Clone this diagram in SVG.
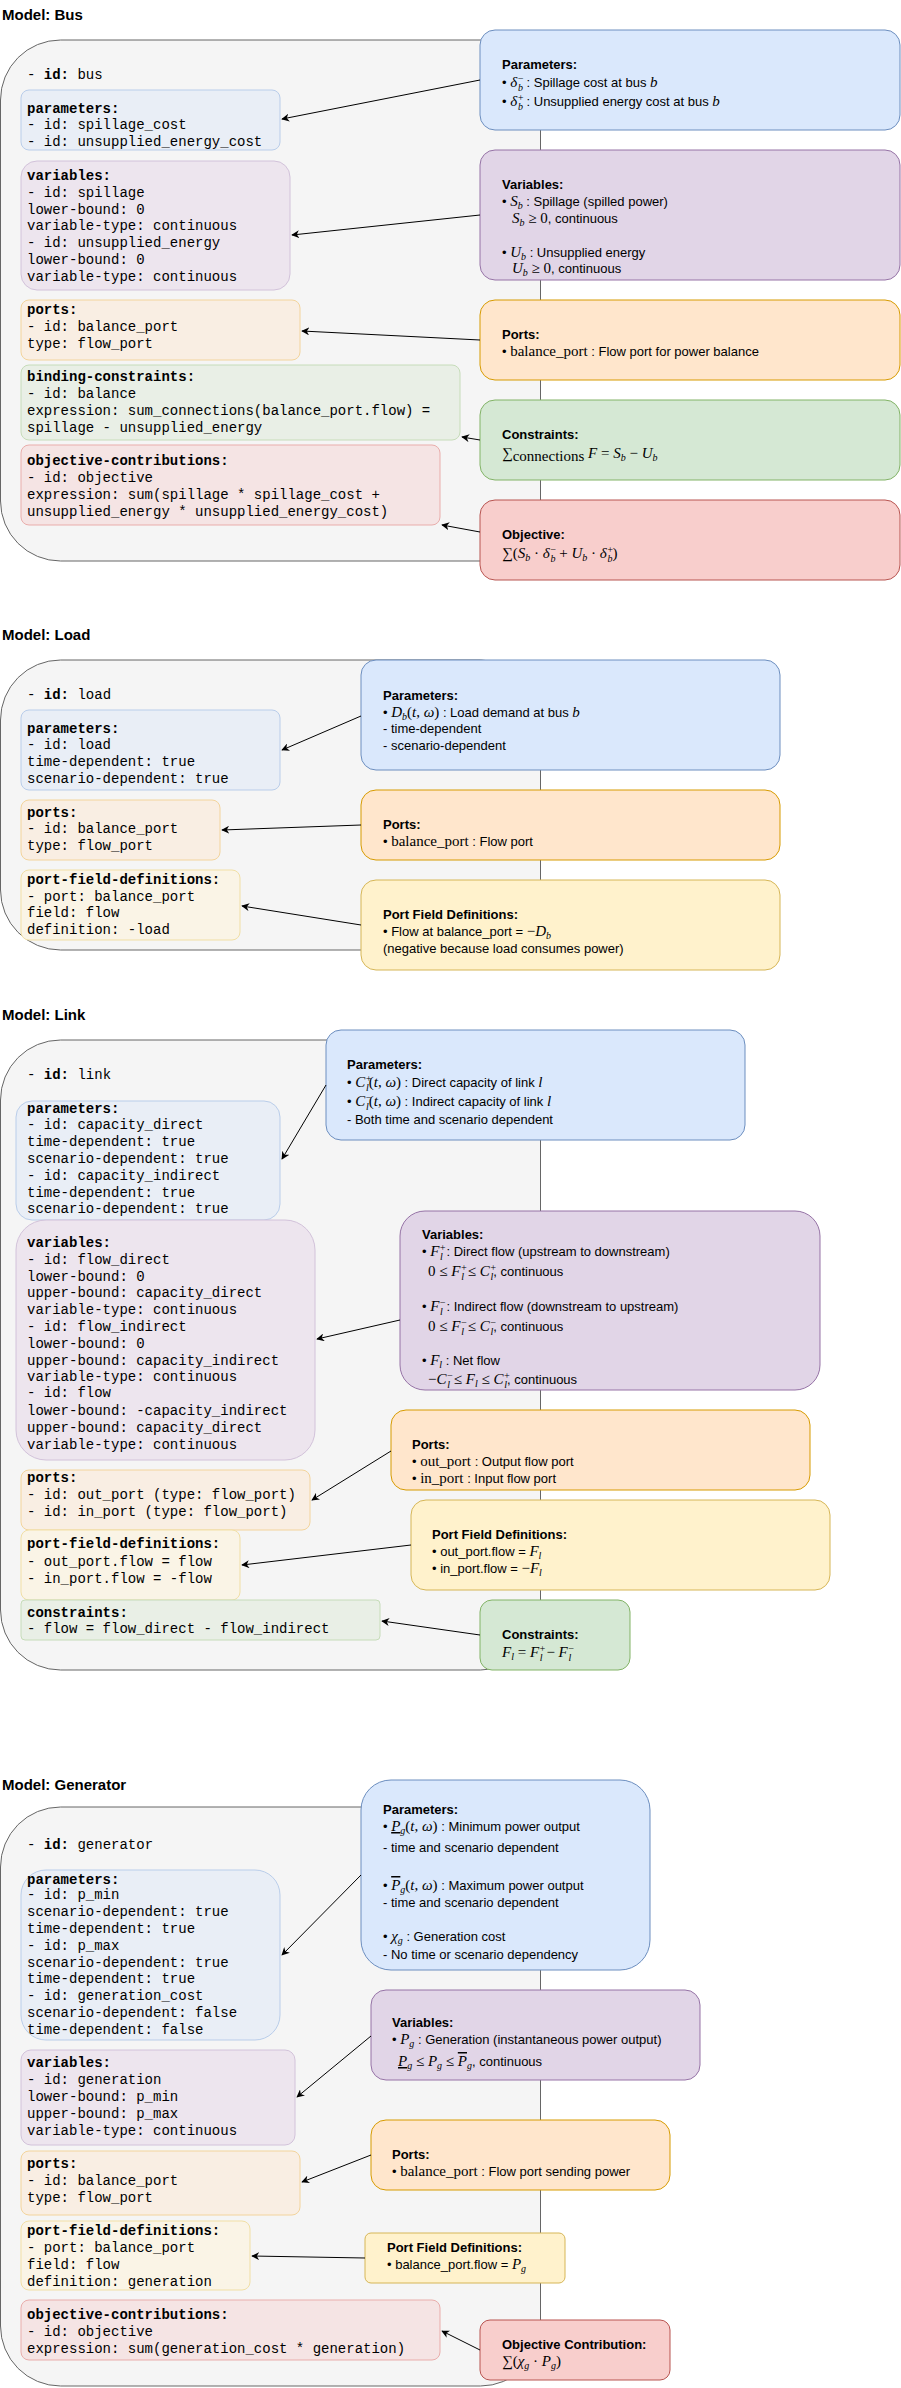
<svg xmlns="http://www.w3.org/2000/svg" width="901" height="2388" viewBox="0 0 901 2388" xml:space="preserve">
<style>
.t{font-family:"Liberation Sans",Arial,sans-serif;font-size:15px;font-weight:bold;fill:#000}
.c{font-family:"Liberation Mono","DejaVu Sans Mono",monospace;font-size:14px;fill:#000}
.b{font-weight:bold}
.r{font-family:"Liberation Sans",Arial,sans-serif;font-size:13px;fill:#000}
.m{font-family:"Liberation Serif",serif;font-style:italic;font-size:15px}
.u{font-family:"Liberation Serif",serif;font-size:15px}
.s{font-family:"Liberation Serif",serif;font-style:italic;font-size:10px}
.cont{fill:#f5f5f5;stroke:#666;stroke-width:1}
.lp{fill:#e9eef6;stroke:#b9cdea}
.lv{fill:#ede5ee;stroke:#d2c2da}
.lo{fill:#f9eee3;stroke:#f3d49c}
.lg{fill:#e9efe6;stroke:#c6dcb9}
.lr{fill:#f5e4e4;stroke:#e9adab}
.ly{fill:#faf4e6;stroke:#f1dfa5}
.rp{fill:#dae8fc;stroke:#6c8ebf}
.rv{fill:#e1d5e7;stroke:#9673a6}
.ro{fill:#ffe6cc;stroke:#d79b00}
.rg{fill:#d5e8d4;stroke:#82b366}
.rr{fill:#f8cecc;stroke:#b85450}
.ry{fill:#fff2cc;stroke:#d6b656}
.a{stroke:#000;stroke-width:1;fill:none;marker-end:url(#ah)}
</style>
<defs><marker id="ah" viewBox="0 0 10 10" refX="9" refY="5" markerWidth="8" markerHeight="8" orient="auto" markerUnits="userSpaceOnUse"><path d="M0,0 L10,5 L0,10 L3,5 z" fill="#000"/></marker></defs>
<rect width="901" height="2388" fill="#fff"/>

<!-- ===== BUS ===== -->
<g id="bus">
<text class="t" x="2" y="20">Model: Bus</text>
<rect class="cont" x="0.5" y="40" width="540" height="521" rx="60"/>
<text class="c" x="27" y="79">- <tspan class="b">id:</tspan> bus</text>
</g>
<g id="bus-params"><rect class="lp" x="21" y="90" width="259" height="60" rx="8"/>
<text class="c" x="27" y="113"><tspan class="b">parameters:</tspan></text>
<text class="c" x="27" y="129"> - id: spillage_cost</text>
<text class="c" x="27" y="146"> - id: unsupplied_energy_cost</text></g>
<g id="bus-vars"><rect class="lv" x="21" y="161" width="269" height="129" rx="16"/>
<text class="c" x="27" y="180"><tspan class="b">variables:</tspan></text>
<text class="c" x="27" y="197"> - id: spillage</text>
<text class="c" x="27" y="214">   lower-bound: 0</text>
<text class="c" x="27" y="230">   variable-type: continuous</text>
<text class="c" x="27" y="247"> - id: unsupplied_energy</text>
<text class="c" x="27" y="264">   lower-bound: 0</text>
<text class="c" x="27" y="281">   variable-type: continuous</text></g>
<g id="bus-ports"><rect class="lo" x="21" y="300" width="279" height="60" rx="8"/>
<text class="c" x="27" y="314"><tspan class="b">ports:</tspan></text>
<text class="c" x="27" y="331"> - id: balance_port</text>
<text class="c" x="27" y="348">   type: flow_port</text></g>
<g id="bus-binding"><rect class="lg" x="21" y="365" width="439" height="75" rx="8"/>
<text class="c" x="27" y="381"><tspan class="b">binding-constraints:</tspan></text>
<text class="c" x="27" y="398"> - id: balance</text>
<text class="c" x="27" y="415">   expression: sum_connections(balance_port.flow) =</text>
<text class="c" x="27" y="432">spillage - unsupplied_energy</text></g>
<g id="bus-obj"><rect class="lr" x="21" y="445" width="419" height="80" rx="8"/>
<text class="c" x="27" y="465"><tspan class="b">objective-contributions:</tspan></text>
<text class="c" x="27" y="482"> - id: objective</text>
<text class="c" x="27" y="499">   expression: sum(spillage * spillage_cost +</text>
<text class="c" x="27" y="516">unsupplied_energy * unsupplied_energy_cost)</text></g>

<g id="bus-r-params"><rect class="rp" x="480" y="30" width="420" height="100" rx="15"/>
<text class="r b" x="502" y="69">Parameters:</text>
<text class="r" x="502" y="87">• <tspan class="m">δ</tspan><tspan class="s" dy="-5">−</tspan><tspan class="s" dx="-6" dy="9">b</tspan><tspan dy="-4"> : Spillage cost at bus </tspan><tspan class="m">b</tspan></text>
<text class="r" x="502" y="106">• <tspan class="m">δ</tspan><tspan class="s" dy="-5">+</tspan><tspan class="s" dx="-6" dy="9">b</tspan><tspan dy="-4"> : Unsupplied energy cost at bus </tspan><tspan class="m">b</tspan></text></g>
<g id="bus-r-vars"><rect class="rv" x="480" y="150" width="420" height="130" rx="15"/>
<text class="r b" x="502" y="189">Variables:</text>
<text class="r" x="502" y="206">• <tspan class="m">S</tspan><tspan class="s" dy="3">b</tspan><tspan dy="-3"> : Spillage (spilled power)</tspan></text>
<text class="r" x="512" y="223"><tspan class="m">S</tspan><tspan class="s" dy="3">b</tspan><tspan class="u" dy="-3"> ≥ 0</tspan>, continuous</text>
<text class="r" x="502" y="257">• <tspan class="m">U</tspan><tspan class="s" dy="3">b</tspan><tspan dy="-3"> : Unsupplied energy</tspan></text>
<text class="r" x="512" y="273"><tspan class="m">U</tspan><tspan class="s" dy="3">b</tspan><tspan class="u" dy="-3"> ≥ 0</tspan>, continuous</text></g>
<g id="bus-r-ports"><rect class="ro" x="480" y="300" width="420" height="80" rx="15"/>
<text class="r b" x="502" y="339">Ports:</text>
<text class="r" x="502" y="356">• <tspan class="u">balance_port</tspan> : Flow port for power balance</text></g>
<g id="bus-r-cons"><rect class="rg" x="480" y="400" width="420" height="80" rx="15"/>
<text class="r b" x="502" y="439">Constraints:</text>
<text class="r" x="502" y="458"><tspan class="u" font-size="18">∑</tspan><tspan class="u" font-size="10" dy="3">connections</tspan><tspan class="m" dy="-3"> F</tspan><tspan class="u"> = </tspan><tspan class="m">S</tspan><tspan class="s" dy="3">b</tspan><tspan class="u" dy="-3"> − </tspan><tspan class="m">U</tspan><tspan class="s" dy="3">b</tspan></text></g>
<g id="bus-r-obj"><rect class="rr" x="480" y="500" width="420" height="80" rx="15"/>
<text class="r b" x="502" y="539">Objective:</text>
<text class="r" x="502" y="558"><tspan class="u" font-size="18">∑(</tspan><tspan class="m">S</tspan><tspan class="s" dy="3">b</tspan><tspan class="u" dy="-3"> · </tspan><tspan class="m">δ</tspan><tspan class="s" dy="-5">−</tspan><tspan class="s" dx="-6" dy="9">b</tspan><tspan class="u" dy="-4"> + </tspan><tspan class="m">U</tspan><tspan class="s" dy="3">b</tspan><tspan class="u" dy="-3"> · </tspan><tspan class="m">δ</tspan><tspan class="s" dy="-5">+</tspan><tspan class="s" dx="-6" dy="9">b</tspan><tspan class="u" font-size="18" dy="-4">)</tspan></text></g>

<!-- ===== LOAD ===== -->
<g id="load">
<text class="t" x="2" y="640">Model: Load</text>
<rect class="cont" x="0.5" y="660" width="540" height="290" rx="60"/>
<text class="c" x="27" y="699">- <tspan class="b">id:</tspan> load</text>
</g>
<g id="load-params"><rect class="lp" x="21" y="710" width="259" height="80" rx="8"/>
<text class="c" x="27" y="733"><tspan class="b">parameters:</tspan></text>
<text class="c" x="27" y="749"> - id: load</text>
<text class="c" x="27" y="766">   time-dependent: true</text>
<text class="c" x="27" y="783">   scenario-dependent: true</text></g>
<g id="load-ports"><rect class="lo" x="21" y="800" width="199" height="60" rx="8"/>
<text class="c" x="27" y="817"><tspan class="b">ports:</tspan></text>
<text class="c" x="27" y="833"> - id: balance_port</text>
<text class="c" x="27" y="850">   type: flow_port</text></g>
<g id="load-pfd"><rect class="ly" x="21" y="870" width="219" height="70" rx="8"/>
<text class="c" x="27" y="884"><tspan class="b">port-field-definitions:</tspan></text>
<text class="c" x="27" y="901"> - port: balance_port</text>
<text class="c" x="27" y="917">   field: flow</text>
<text class="c" x="27" y="934">   definition: -load</text></g>
<g id="load-r-params"><rect class="rp" x="361" y="660" width="419" height="110" rx="15"/>
<text class="r b" x="383" y="700">Parameters:</text>
<text class="r" x="383" y="717">• <tspan class="m">D</tspan><tspan class="s" dy="3">b</tspan><tspan class="u" dy="-3">(</tspan><tspan class="m">t</tspan><tspan class="u">, </tspan><tspan class="m">ω</tspan><tspan class="u">)</tspan> : Load demand at bus <tspan class="m">b</tspan></text>
<text class="r" x="383" y="733">  - time-dependent</text>
<text class="r" x="383" y="750">  - scenario-dependent</text></g>
<g id="load-r-ports"><rect class="ro" x="361" y="790" width="419" height="70" rx="15"/>
<text class="r b" x="383" y="829">Ports:</text>
<text class="r" x="383" y="846">• <tspan class="u">balance_port</tspan> : Flow port</text></g>
<g id="load-r-pfd"><rect class="ry" x="361" y="880" width="419" height="90" rx="15"/>
<text class="r b" x="383" y="919">Port Field Definitions:</text>
<text class="r" x="383" y="936">• Flow at balance_port = <tspan class="u">−</tspan><tspan class="m">D</tspan><tspan class="s" dy="3">b</tspan></text>
<text class="r" x="383" y="953">   (negative because load consumes power)</text></g>

<!-- ===== LINK ===== -->
<g id="link">
<text class="t" x="2" y="1020">Model: Link</text>
<rect class="cont" x="0.5" y="1040" width="540" height="630" rx="60"/>
<text class="c" x="27" y="1079">- <tspan class="b">id:</tspan> link</text>
</g>
<g id="link-params"><rect class="lp" x="16" y="1101" width="264" height="119" rx="16"/>
<text class="c" x="27" y="1113"><tspan class="b">parameters:</tspan></text>
<text class="c" x="27" y="1129"> - id: capacity_direct</text>
<text class="c" x="27" y="1146">   time-dependent: true</text>
<text class="c" x="27" y="1163">   scenario-dependent: true</text>
<text class="c" x="27" y="1180"> - id: capacity_indirect</text>
<text class="c" x="27" y="1197">   time-dependent: true</text>
<text class="c" x="27" y="1213">   scenario-dependent: true</text></g>
<g id="link-vars"><rect class="lv" x="16" y="1220" width="299" height="240" rx="30"/>
<text class="c" x="27" y="1247"><tspan class="b">variables:</tspan></text>
<text class="c" x="27" y="1264"> - id: flow_direct</text>
<text class="c" x="27" y="1281">   lower-bound: 0</text>
<text class="c" x="27" y="1297">   upper-bound: capacity_direct</text>
<text class="c" x="27" y="1314">   variable-type: continuous</text>
<text class="c" x="27" y="1331"> - id: flow_indirect</text>
<text class="c" x="27" y="1348">   lower-bound: 0</text>
<text class="c" x="27" y="1365">   upper-bound: capacity_indirect</text>
<text class="c" x="27" y="1381">   variable-type: continuous</text>
<text class="c" x="27" y="1397"> - id: flow</text>
<text class="c" x="27" y="1415">   lower-bound: -capacity_indirect</text>
<text class="c" x="27" y="1432">   upper-bound: capacity_direct</text>
<text class="c" x="27" y="1449">   variable-type: continuous</text></g>
<g id="link-ports"><rect class="lo" x="21" y="1470" width="289" height="60" rx="8"/>
<text class="c" x="27" y="1482"><tspan class="b">ports:</tspan></text>
<text class="c" x="27" y="1499"> - id: out_port (type: flow_port)</text>
<text class="c" x="27" y="1516"> - id: in_port (type: flow_port)</text></g>
<g id="link-pfd"><rect class="ly" x="21" y="1530" width="219" height="70" rx="8"/>
<text class="c" x="27" y="1548"><tspan class="b">port-field-definitions:</tspan></text>
<text class="c" x="27" y="1566"> - out_port.flow = flow</text>
<text class="c" x="27" y="1583"> - in_port.flow = -flow</text></g>
<g id="link-cons"><rect class="lg" x="21" y="1600" width="359" height="40" rx="4"/>
<text class="c" x="27" y="1617"><tspan class="b">constraints:</tspan></text>
<text class="c" x="27" y="1633"> - flow = flow_direct - flow_indirect</text></g>
<g id="link-r-params"><rect class="rp" x="326" y="1030" width="419" height="110" rx="15"/>
<text class="r b" x="347" y="1069">Parameters:</text>
<text class="r" x="347" y="1087">• <tspan class="m">C</tspan><tspan class="s" dy="-5">+</tspan><tspan class="s" dx="-6" dy="9">l</tspan><tspan class="u" dy="-4">(</tspan><tspan class="m">t</tspan><tspan class="u">, </tspan><tspan class="m">ω</tspan><tspan class="u">)</tspan> : Direct capacity of link <tspan class="m">l</tspan></text>
<text class="r" x="347" y="1106">• <tspan class="m">C</tspan><tspan class="s" dy="-5">−</tspan><tspan class="s" dx="-6" dy="9">l</tspan><tspan class="u" dy="-4">(</tspan><tspan class="m">t</tspan><tspan class="u">, </tspan><tspan class="m">ω</tspan><tspan class="u">)</tspan> : Indirect capacity of link <tspan class="m">l</tspan></text>
<text class="r" x="347" y="1124">  - Both time and scenario dependent</text></g>
<g id="link-r-vars"><rect class="rv" x="400" y="1211" width="420" height="179" rx="25"/>
<text class="r b" x="422" y="1239">Variables:</text>
<text class="r" x="422" y="1256">• <tspan class="m">F</tspan><tspan class="s" dy="-5">+</tspan><tspan class="s" dx="-6" dy="9">l</tspan><tspan dy="-4">  : Direct flow (upstream to downstream)</tspan></text>
<text class="r" x="428" y="1276"><tspan class="u">0 ≤ </tspan><tspan class="m">F</tspan><tspan class="s" dy="-5">+</tspan><tspan class="s" dx="-6" dy="9">l</tspan><tspan class="u" dy="-4">  ≤ </tspan><tspan class="m">C</tspan><tspan class="s" dy="-5">+</tspan><tspan class="s" dx="-6" dy="9">l</tspan><tspan dy="-4">, continuous</tspan></text>
<text class="r" x="422" y="1311">• <tspan class="m">F</tspan><tspan class="s" dy="-5">−</tspan><tspan class="s" dx="-6" dy="9">l</tspan><tspan dy="-4">  : Indirect flow (downstream to upstream)</tspan></text>
<text class="r" x="428" y="1331"><tspan class="u">0 ≤ </tspan><tspan class="m">F</tspan><tspan class="s" dy="-5">−</tspan><tspan class="s" dx="-6" dy="9">l</tspan><tspan class="u" dy="-4">  ≤ </tspan><tspan class="m">C</tspan><tspan class="s" dy="-5">−</tspan><tspan class="s" dx="-6" dy="9">l</tspan><tspan dy="-4">, continuous</tspan></text>
<text class="r" x="422" y="1365">• <tspan class="m">F</tspan><tspan class="s" dy="3">l</tspan><tspan dy="-3"> : Net flow</tspan></text>
<text class="r" x="428" y="1384"><tspan class="u">−</tspan><tspan class="m">C</tspan><tspan class="s" dy="-5">−</tspan><tspan class="s" dx="-6" dy="9">l</tspan><tspan class="u" dy="-4">  ≤ </tspan><tspan class="m">F</tspan><tspan class="s" dy="3">l</tspan><tspan class="u" dy="-3"> ≤ </tspan><tspan class="m">C</tspan><tspan class="s" dy="-5">+</tspan><tspan class="s" dx="-6" dy="9">l</tspan><tspan dy="-4">, continuous</tspan></text></g>
<g id="link-r-ports"><rect class="ro" x="391" y="1410" width="419" height="80" rx="15"/>
<text class="r b" x="412" y="1449">Ports:</text>
<text class="r" x="412" y="1466">• <tspan class="u">out_port</tspan> : Output flow port</text>
<text class="r" x="412" y="1483">• <tspan class="u">in_port</tspan> : Input flow port</text></g>
<g id="link-r-pfd"><rect class="ry" x="411" y="1500" width="419" height="90" rx="15"/>
<text class="r b" x="432" y="1539">Port Field Definitions:</text>
<text class="r" x="432" y="1556">• out_port.flow = <tspan class="m">F</tspan><tspan class="s" dy="3">l</tspan></text>
<text class="r" x="432" y="1573">• in_port.flow = <tspan class="u">−</tspan><tspan class="m">F</tspan><tspan class="s" dy="3">l</tspan></text></g>
<g id="link-r-cons"><rect class="rg" x="480" y="1600" width="150" height="70" rx="12"/>
<text class="r b" x="502" y="1639">Constraints:</text>
<text class="r" x="502" y="1657"><tspan class="m">F</tspan><tspan class="s" dy="3">l</tspan><tspan class="u" dy="-3"> = </tspan><tspan class="m">F</tspan><tspan class="s" dy="-5">+</tspan><tspan class="s" dx="-6" dy="9">l</tspan><tspan class="u" dy="-4">  − </tspan><tspan class="m">F</tspan><tspan class="s" dy="-5">−</tspan><tspan class="s" dx="-6" dy="9">l</tspan></text></g>

<!-- ===== GENERATOR ===== -->
<g id="generator">
<text class="t" x="2" y="1790">Model: Generator</text>
<rect class="cont" x="0.5" y="1807" width="540" height="579" rx="60"/>
<text class="c" x="27" y="1849">- <tspan class="b">id:</tspan> generator</text>
</g>
<g id="gen-params"><rect class="lp" x="21" y="1870" width="259" height="170" rx="25"/>
<text class="c" x="27" y="1884"><tspan class="b">parameters:</tspan></text>
<text class="c" x="27" y="1899"> - id: p_min</text>
<text class="c" x="27" y="1916">   scenario-dependent: true</text>
<text class="c" x="27" y="1933">   time-dependent: true</text>
<text class="c" x="27" y="1950"> - id: p_max</text>
<text class="c" x="27" y="1967">   scenario-dependent: true</text>
<text class="c" x="27" y="1983">   time-dependent: true</text>
<text class="c" x="27" y="2000"> - id: generation_cost</text>
<text class="c" x="27" y="2017">   scenario-dependent: false</text>
<text class="c" x="27" y="2034">   time-dependent: false</text></g>
<g id="gen-vars"><rect class="lv" x="21" y="2050" width="274" height="95" rx="10"/>
<text class="c" x="27" y="2067"><tspan class="b">variables:</tspan></text>
<text class="c" x="27" y="2084"> - id: generation</text>
<text class="c" x="27" y="2101">   lower-bound: p_min</text>
<text class="c" x="27" y="2118">   upper-bound: p_max</text>
<text class="c" x="27" y="2135">   variable-type: continuous</text></g>
<g id="gen-ports"><rect class="lo" x="21" y="2151" width="279" height="64" rx="8"/>
<text class="c" x="27" y="2168"><tspan class="b">ports:</tspan></text>
<text class="c" x="27" y="2185"> - id: balance_port</text>
<text class="c" x="27" y="2202">   type: flow_port</text></g>
<g id="gen-pfd"><rect class="ly" x="21" y="2221" width="229" height="69" rx="8"/>
<text class="c" x="27" y="2235"><tspan class="b">port-field-definitions:</tspan></text>
<text class="c" x="27" y="2252"> - port: balance_port</text>
<text class="c" x="27" y="2269">   field: flow</text>
<text class="c" x="27" y="2286">   definition: generation</text></g>
<g id="gen-obj"><rect class="lr" x="21" y="2300" width="419" height="60" rx="8"/>
<text class="c" x="27" y="2319"><tspan class="b">objective-contributions:</tspan></text>
<text class="c" x="27" y="2336"> - id: objective</text>
<text class="c" x="27" y="2353">   expression: sum(generation_cost * generation)</text></g>
<g id="gen-r-params"><rect class="rp" x="361" y="1780" width="289" height="190" rx="30"/>
<text class="r b" x="383" y="1814">Parameters:</text>
<text class="r" x="383" y="1831">• <tspan class="m" text-decoration="underline">P</tspan><tspan class="s" dy="3">g</tspan><tspan class="u" dy="-3">(</tspan><tspan class="m">t</tspan><tspan class="u">, </tspan><tspan class="m">ω</tspan><tspan class="u">)</tspan> : Minimum power output</text>
<text class="r" x="383" y="1852">  - time and scenario dependent</text>
<text class="r" x="383" y="1890">• <tspan class="m" text-decoration="overline">P</tspan><tspan class="s" dy="3">g</tspan><tspan class="u" dy="-3">(</tspan><tspan class="m">t</tspan><tspan class="u">, </tspan><tspan class="m">ω</tspan><tspan class="u">)</tspan> : Maximum power output</text>
<text class="r" x="383" y="1907">  - time and scenario dependent</text>
<text class="r" x="383" y="1941">• <tspan class="m">χ</tspan><tspan class="s" dy="3">g</tspan><tspan dy="-3"> : Generation cost</tspan></text>
<text class="r" x="383" y="1959">  - No time or scenario dependency</text></g>
<g id="gen-r-vars"><rect class="rv" x="371" y="1990" width="329" height="90" rx="15"/>
<text class="r b" x="392" y="2027">Variables:</text>
<text class="r" x="392" y="2044">• <tspan class="m">P</tspan><tspan class="s" dy="3">g</tspan><tspan dy="-3"> : Generation (instantaneous power output)</tspan></text>
<text class="r" x="398" y="2066"><tspan class="m" text-decoration="underline">P</tspan><tspan class="s" dy="3">g</tspan><tspan class="u" dy="-3"> ≤ </tspan><tspan class="m">P</tspan><tspan class="s" dy="3">g</tspan><tspan class="u" dy="-3"> ≤ </tspan><tspan class="m" text-decoration="overline">P</tspan><tspan class="s" dy="3">g</tspan><tspan dy="-3">, continuous</tspan></text></g>
<g id="gen-r-ports"><rect class="ro" x="371" y="2120" width="299" height="70" rx="15"/>
<text class="r b" x="392" y="2159">Ports:</text>
<text class="r" x="392" y="2176">• <tspan class="u">balance_port</tspan> : Flow port sending power</text></g>
<g id="gen-r-pfd"><rect class="ry" x="365" y="2233" width="200" height="50" rx="6"/>
<text class="r b" x="387" y="2252">Port Field Definitions:</text>
<text class="r" x="387" y="2269">• balance_port.flow = <tspan class="m">P</tspan><tspan class="s" dy="3">g</tspan></text></g>
<g id="gen-r-obj"><rect class="rr" x="480" y="2320" width="190" height="60" rx="10"/>
<text class="r b" x="502" y="2349">Objective Contribution:</text>
<text class="r" x="502" y="2366"><tspan class="u" font-size="18">∑(</tspan><tspan class="m">χ</tspan><tspan class="s" dy="3">g</tspan><tspan class="u" dy="-3"> · </tspan><tspan class="m">P</tspan><tspan class="s" dy="3">g</tspan><tspan class="u" font-size="18" dy="-3">)</tspan></text></g>

<g id="connectors">
<line class="a" x1="480" y1="80" x2="282" y2="119"/>
<line class="a" x1="480" y1="215" x2="292" y2="235"/>
<line class="a" x1="480" y1="340" x2="302" y2="331"/>
<line class="a" x1="480" y1="440" x2="462" y2="437"/>
<line class="a" x1="480" y1="532" x2="442" y2="525"/>
<line class="a" x1="361" y1="716" x2="282" y2="750"/>
<line class="a" x1="361" y1="825" x2="222" y2="830"/>
<line class="a" x1="361" y1="925" x2="242" y2="906"/>
<line class="a" x1="326" y1="1085" x2="282" y2="1159"/>
<line class="a" x1="400" y1="1320" x2="317" y2="1339"/>
<line class="a" x1="391" y1="1451" x2="312" y2="1500"/>
<line class="a" x1="411" y1="1545" x2="242" y2="1565"/>
<line class="a" x1="480" y1="1635" x2="382" y2="1621"/>
<line class="a" x1="361" y1="1875" x2="282" y2="1955"/>
<line class="a" x1="371" y1="2036" x2="297" y2="2097"/>
<line class="a" x1="371" y1="2155" x2="302" y2="2182"/>
<line class="a" x1="365" y1="2258" x2="252" y2="2256"/>
<line class="a" x1="480" y1="2350" x2="442" y2="2331"/>
</g>
</svg>
